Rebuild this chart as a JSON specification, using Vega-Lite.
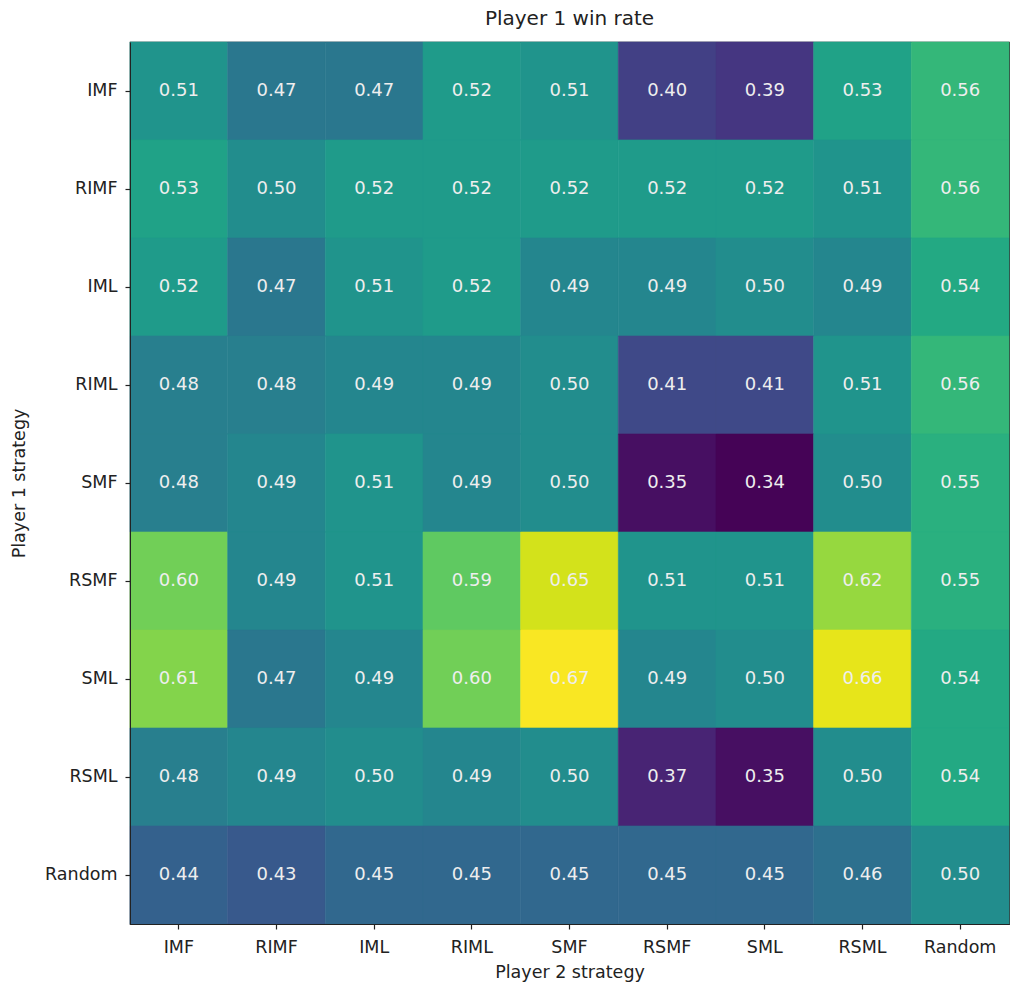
{
  "$schema": "https://vega.github.io/schema/vega-lite/v6.json",
  "autosize": "none",
  "width": 879,
  "height": 882,
  "padding": {"left": 130, "top": 42, "right": 2, "bottom": 60},
  "background": "white",
  "title": {"text": "Player 1 win rate", "font": "DejaVu Sans", "fontSize": 20, "fontWeight": "normal", "color": "#222222", "offset": 13},
  "config": {
    "view": {"stroke": "#222222", "strokeWidth": 1.2},
    "axis": {"labelFont": "DejaVu Sans", "titleFont": "DejaVu Sans", "labelFontSize": 17.5, "titleFontSize": 17.5, "titleFontWeight": "normal", "labelColor": "#222222", "titleColor": "#222222", "tickColor": "#222222", "domainColor": "#222222", "tickSize": 5, "tickWidth": 1.2, "grid": false}
  },
  "data": {"values": [
    {"p1":"IMF","p2":"IMF","v":0.51},{"p1":"IMF","p2":"RIMF","v":0.47},{"p1":"IMF","p2":"IML","v":0.47},{"p1":"IMF","p2":"RIML","v":0.52},{"p1":"IMF","p2":"SMF","v":0.51},{"p1":"IMF","p2":"RSMF","v":0.40},{"p1":"IMF","p2":"SML","v":0.39},{"p1":"IMF","p2":"RSML","v":0.53},{"p1":"IMF","p2":"Random","v":0.56},
    {"p1":"RIMF","p2":"IMF","v":0.53},{"p1":"RIMF","p2":"RIMF","v":0.50},{"p1":"RIMF","p2":"IML","v":0.52},{"p1":"RIMF","p2":"RIML","v":0.52},{"p1":"RIMF","p2":"SMF","v":0.52},{"p1":"RIMF","p2":"RSMF","v":0.52},{"p1":"RIMF","p2":"SML","v":0.52},{"p1":"RIMF","p2":"RSML","v":0.51},{"p1":"RIMF","p2":"Random","v":0.56},
    {"p1":"IML","p2":"IMF","v":0.52},{"p1":"IML","p2":"RIMF","v":0.47},{"p1":"IML","p2":"IML","v":0.51},{"p1":"IML","p2":"RIML","v":0.52},{"p1":"IML","p2":"SMF","v":0.49},{"p1":"IML","p2":"RSMF","v":0.49},{"p1":"IML","p2":"SML","v":0.50},{"p1":"IML","p2":"RSML","v":0.49},{"p1":"IML","p2":"Random","v":0.54},
    {"p1":"RIML","p2":"IMF","v":0.48},{"p1":"RIML","p2":"RIMF","v":0.48},{"p1":"RIML","p2":"IML","v":0.49},{"p1":"RIML","p2":"RIML","v":0.49},{"p1":"RIML","p2":"SMF","v":0.50},{"p1":"RIML","p2":"RSMF","v":0.41},{"p1":"RIML","p2":"SML","v":0.41},{"p1":"RIML","p2":"RSML","v":0.51},{"p1":"RIML","p2":"Random","v":0.56},
    {"p1":"SMF","p2":"IMF","v":0.48},{"p1":"SMF","p2":"RIMF","v":0.49},{"p1":"SMF","p2":"IML","v":0.51},{"p1":"SMF","p2":"RIML","v":0.49},{"p1":"SMF","p2":"SMF","v":0.50},{"p1":"SMF","p2":"RSMF","v":0.35},{"p1":"SMF","p2":"SML","v":0.34},{"p1":"SMF","p2":"RSML","v":0.50},{"p1":"SMF","p2":"Random","v":0.55},
    {"p1":"RSMF","p2":"IMF","v":0.60},{"p1":"RSMF","p2":"RIMF","v":0.49},{"p1":"RSMF","p2":"IML","v":0.51},{"p1":"RSMF","p2":"RIML","v":0.59},{"p1":"RSMF","p2":"SMF","v":0.65},{"p1":"RSMF","p2":"RSMF","v":0.51},{"p1":"RSMF","p2":"SML","v":0.51},{"p1":"RSMF","p2":"RSML","v":0.62},{"p1":"RSMF","p2":"Random","v":0.55},
    {"p1":"SML","p2":"IMF","v":0.61},{"p1":"SML","p2":"RIMF","v":0.47},{"p1":"SML","p2":"IML","v":0.49},{"p1":"SML","p2":"RIML","v":0.60},{"p1":"SML","p2":"SMF","v":0.67},{"p1":"SML","p2":"RSMF","v":0.49},{"p1":"SML","p2":"SML","v":0.50},{"p1":"SML","p2":"RSML","v":0.66},{"p1":"SML","p2":"Random","v":0.54},
    {"p1":"RSML","p2":"IMF","v":0.48},{"p1":"RSML","p2":"RIMF","v":0.49},{"p1":"RSML","p2":"IML","v":0.50},{"p1":"RSML","p2":"RIML","v":0.49},{"p1":"RSML","p2":"SMF","v":0.50},{"p1":"RSML","p2":"RSMF","v":0.37},{"p1":"RSML","p2":"SML","v":0.35},{"p1":"RSML","p2":"RSML","v":0.50},{"p1":"RSML","p2":"Random","v":0.54},
    {"p1":"Random","p2":"IMF","v":0.44},{"p1":"Random","p2":"RIMF","v":0.43},{"p1":"Random","p2":"IML","v":0.45},{"p1":"Random","p2":"RIML","v":0.45},{"p1":"Random","p2":"SMF","v":0.45},{"p1":"Random","p2":"RSMF","v":0.45},{"p1":"Random","p2":"SML","v":0.45},{"p1":"Random","p2":"RSML","v":0.46},{"p1":"Random","p2":"Random","v":0.50}
  ]},
  "encoding": {
    "x": {"field": "p2", "type": "nominal", "sort": ["IMF","RIMF","IML","RIML","SMF","RSMF","SML","RSML","Random"], "scale": {"paddingInner": 0, "paddingOuter": 0}, "axis": {"title": "Player 2 strategy", "labelAngle": 0, "labelPadding": 9, "titlePadding": 8}},
    "y": {"field": "p1", "type": "nominal", "sort": ["IMF","RIMF","IML","RIML","SMF","RSMF","SML","RSML","Random"], "scale": {"paddingInner": 0, "paddingOuter": 0}, "axis": {"title": "Player 1 strategy", "labelPadding": 8, "titlePadding": 16}}
  },
  "layer": [
    {"mark": {"type": "rect", "strokeWidth": 0.6}, "encoding": {
      "color": {"field": "v", "type": "quantitative", "scale": {"scheme": "viridis", "domain": [0.338, 0.672], "zero": false}, "legend": null},
      "stroke": {"field": "v", "type": "quantitative", "scale": {"scheme": "viridis", "domain": [0.338, 0.672], "zero": false}, "legend": null}}},
    {"mark": {"type": "text", "font": "DejaVu Sans", "fontSize": 18, "color": "#eeeeee"}, "encoding": {"text": {"field": "v", "type": "quantitative", "format": ".2f"}}}
  ]
}
